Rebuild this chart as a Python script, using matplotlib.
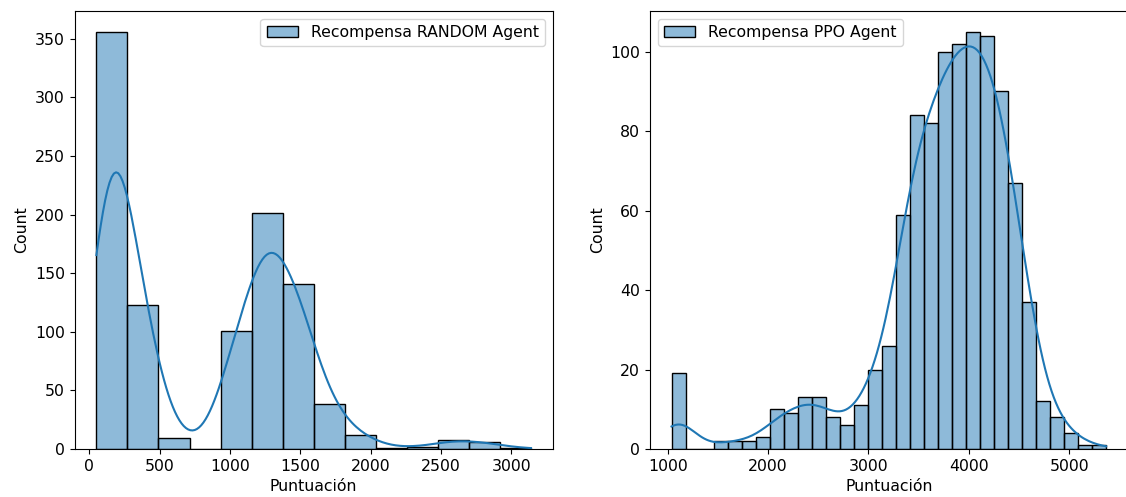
import matplotlib
matplotlib.use('Agg')
import matplotlib.pyplot as plt
import numpy as np
import seaborn as sns

# Histogram bins (start, end, counts per bin)
random_start, random_end = 51, 3139
random_counts = [356, 123, 9, 0, 101, 201, 141, 38, 12, 1, 2, 8, 6, 1]

ppo_start, ppo_end = 1039, 5369
ppo_counts = [19, 0, 0, 2, 2, 2, 3, 10, 9, 13, 13, 8, 6, 11, 20, 26, 59,
              84, 82, 100, 102, 105, 104, 90, 67, 37, 12, 8, 4, 1, 1]

labels = ['Recompensa RANDOM Agent', 'Recompensa PPO Agent']
x_label = 'Puntuación'


def rebuild_scores(start, end, counts):
    # one pseudo score per episode, placed at the bin centre
    edges = np.linspace(start, end, len(counts) + 1)
    centres = (edges[:-1] + edges[1:]) / 2
    return np.repeat(centres, counts), edges


def main():
    plt.rcParams['font.size'] = 11.3

    fig, axes = plt.subplots(1, 2, figsize=(11.26, 4.97), dpi=100)
    fig.subplots_adjust(left=0.0663, right=1.0017, bottom=0.0966, top=0.978, wspace=0.203)

    # (start, end, counts, legend corner, kde bandwidth tweak)
    sets = [(random_start, random_end, random_counts, 'upper right', 0.96),
            (ppo_start, ppo_end, ppo_counts, 'upper left', 1.0)]

    for ax, (start, end, counts, loc, bw), label in zip(axes, sets, labels):
        scores, edges = rebuild_scores(start, end, counts)
        sns.histplot(x=scores, bins=edges, kde=True, ax=ax, label=label,
                     kde_kws={'cut': 3, 'clip': (start, end), 'bw_adjust': bw})
        ax.set_xlabel(x_label)
        ax.set_ylabel('Count')
        ax.legend(loc=loc)

    fig.savefig('out.png', dpi=100)


if(__name__ == '__main__'):
    main()
